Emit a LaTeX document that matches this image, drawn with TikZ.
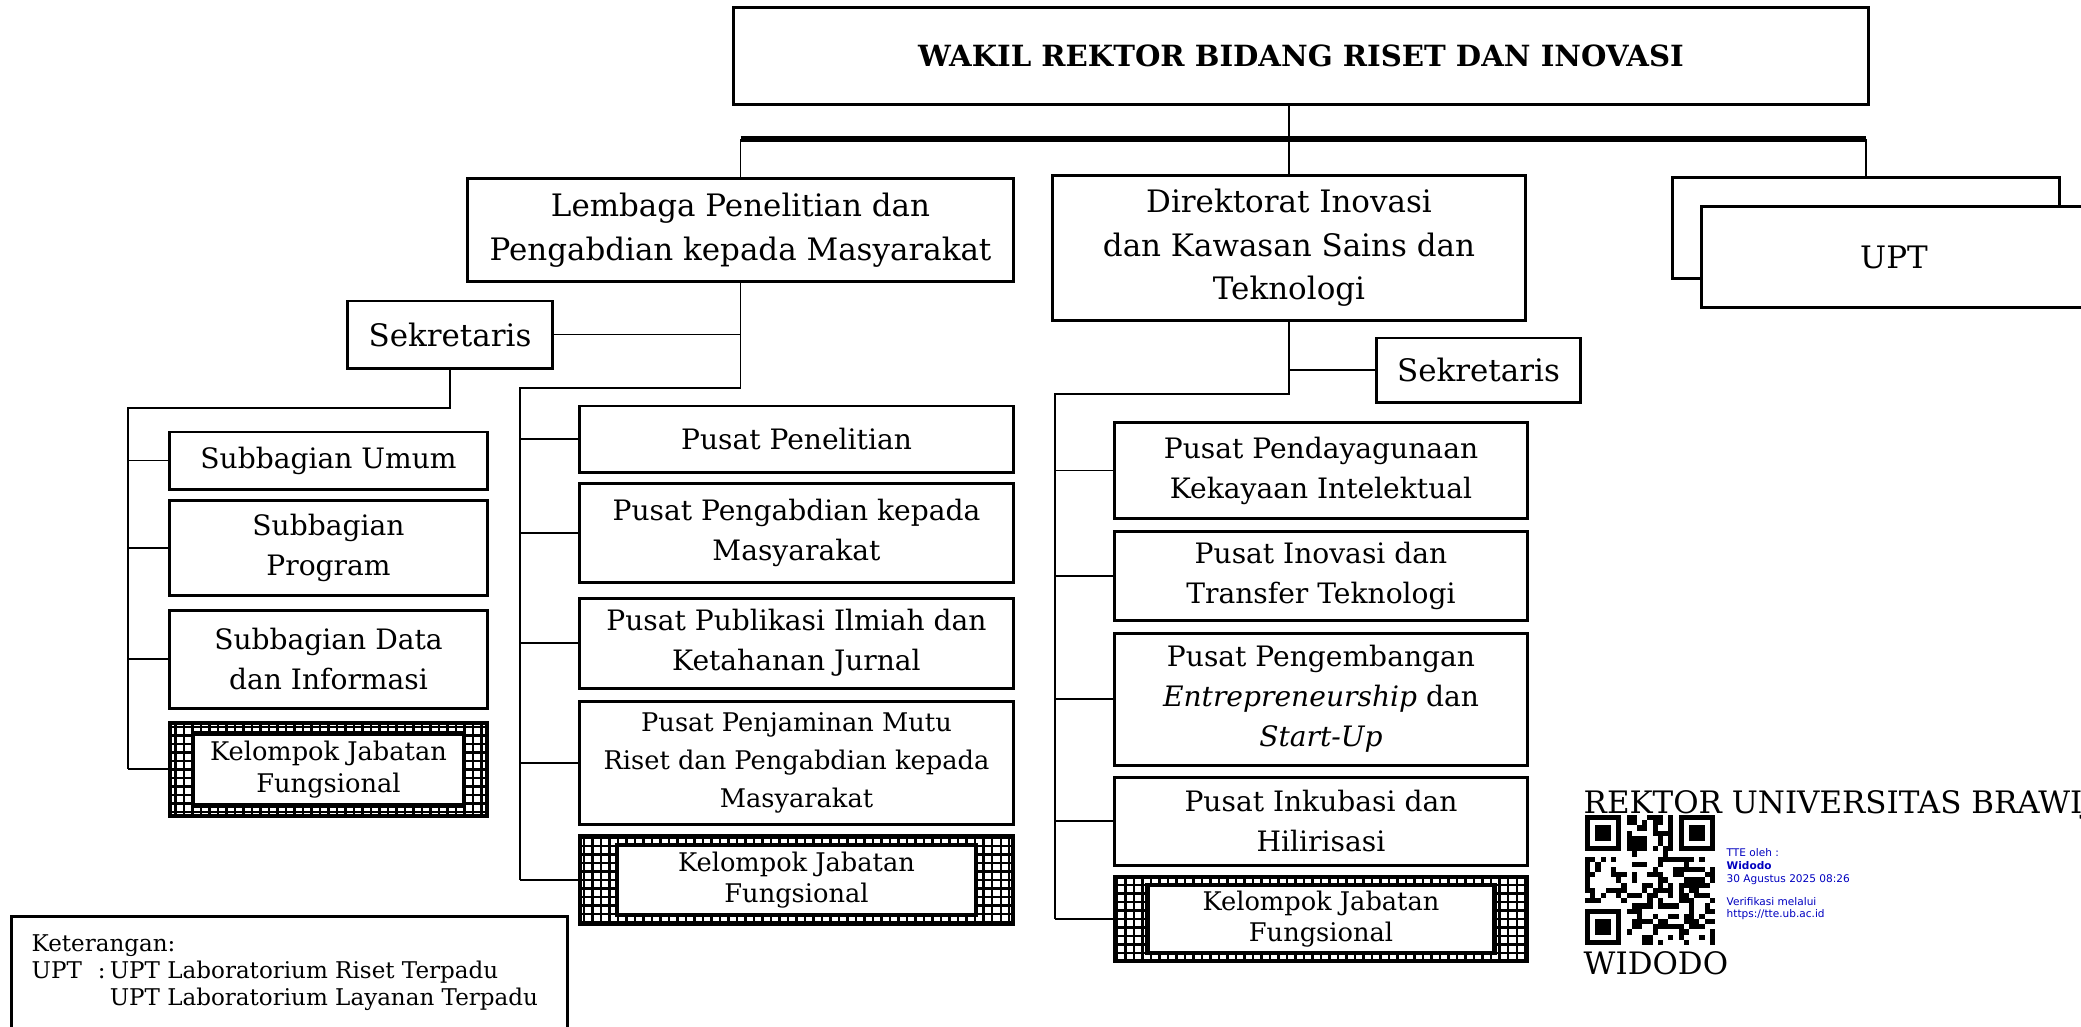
\documentclass[tikz,border=0pt]{standalone}
\usepackage{fontspec}
\setmainfont{DejaVu Serif}
\setsansfont{DejaVu Sans}
\usetikzlibrary{positioning}

\newcommand{\fsT}{\fontsize{8.3}{10}\selectfont\bfseries}
\newcommand{\fsL}{\fontsize{8.8}{12.4}\selectfont}
\newcommand{\fsN}{\fontsize{8}{11.4}\selectfont}
\newcommand{\fsS}{\fontsize{7.3}{10.8}\selectfont}
\newcommand{\fsK}{\fontsize{7.3}{9}\selectfont}
\newcommand{\fsLeg}{\fontsize{6.55}{7.7}\selectfont}
\newcommand{\fsSig}{\fontsize{8.8}{10}\selectfont}

\begin{document}
\begin{tikzpicture}[x=0.01cm, y=-0.01cm, node distance=0.1cm,
    box/.style={draw, line width=0.85pt, align=center, inner sep=1pt, font=\fsN},
    bigbox/.style={box, font=\fsL},
    smallbox/.style={box, font=\fsS},
    kjfout/.style={draw, line width=1.3pt, path picture={
        \draw[line width=0.65pt, step=0.085cm] (path picture bounding box.south west) grid (path picture bounding box.north east);}},
    kjfin/.style={draw, fill=white, line width=1.3pt, align=center, inner sep=0pt, font=\fsK},
    link/.style={line width=0.55pt},
    bar/.style={line width=1.5pt}]
    \useasboundingbox (0,0) rectangle (2081,1026);

    % pimpinan
    \node[box, font=\fsT, minimum width=11.35cm, minimum height=0.96cm] (wr) at (1301,56) {WAKIL REKTOR BIDANG RISET DAN INOVASI};
    \node[bigbox, minimum width=5.45cm, minimum height=1.02cm] (lppm) at (740.5,230) {Lembaga Penelitian dan\\Pengabdian kepada Masyarakat};
    \node[bigbox, minimum width=4.72cm, minimum height=1.44cm] (dir) at (1289,248) {Direktorat Inovasi\\dan Kawasan Sains dan\\Teknologi};
    \node[box, minimum width=3.86cm, minimum height=1.0cm] (uptback) at (1866,228) {};
    \node[bigbox, fill=white, minimum width=3.84cm, minimum height=1.0cm] (upt) at (1894,257) {UPT};

    % sekretaris
    \node[bigbox, minimum width=2.04cm, minimum height=0.67cm] (sekL) at (450,334.5) {Sekretaris};
    \node[bigbox, minimum width=2.03cm, minimum height=0.64cm] (sekR) at (1478.5,370) {Sekretaris};

    % subbagian (LPPM)
    \node[box, minimum width=3.17cm, minimum height=0.57cm] (umum) at (328.5,460.5) {Subbagian Umum};
    \node[box, minimum width=3.17cm, minimum height=0.95cm, below=0.08cm of umum] (prog) {Subbagian\\Program};
    \node[box, minimum width=3.17cm, minimum height=0.98cm, below=0.12cm of prog] (data) {Subbagian Data\\dan Informasi};
    \node[kjfout, minimum width=3.17cm, minimum height=0.93cm, below=0.11cm of data] (kjfA) {};
    \node[kjfin, minimum width=2.71cm, minimum height=0.72cm] (kjfAi) at (kjfA) {Kelompok Jabatan\\Fungsional};

    % pusat (LPPM)
    \node[box, minimum width=4.33cm, minimum height=0.66cm] (pp) at (796.5,439) {Pusat Penelitian};
    \node[box, minimum width=4.33cm, minimum height=0.99cm, below=0.085cm of pp] (pa) {Pusat Pengabdian kepada\\Masyarakat};
    \node[box, minimum width=4.33cm, minimum height=0.9cm, below=0.125cm of pa] (pub) {Pusat Publikasi Ilmiah dan\\Ketahanan Jurnal};
    \node[smallbox, minimum width=4.33cm, minimum height=1.23cm, below=of pub] (pm) {Pusat Penjaminan Mutu\\Riset dan Pengabdian kepada\\Masyarakat};
    \node[kjfout, minimum width=4.33cm, minimum height=0.88cm, below=0.08cm of pm] (kjfB) {};
    \node[kjfin, minimum width=3.59cm, minimum height=0.7cm] (kjfBi) at (kjfB) {Kelompok Jabatan\\Fungsional};

    % pusat (Direktorat)
    \node[box, minimum width=4.12cm, minimum height=0.95cm] (pd) at (1321,470.5) {Pusat Pendayagunaan\\Kekayaan Intelektual};
    \node[box, minimum width=4.12cm, minimum height=0.89cm, below=of pd] (pi) {Pusat Inovasi dan\\Transfer Teknologi};
    \node[box, minimum width=4.12cm, minimum height=1.32cm, below=of pi] (pe) {Pusat Pengembangan\\\textit{Entrepreneurship} dan\\\textit{Start-Up}};
    \node[box, minimum width=4.12cm, minimum height=0.88cm, below=0.09cm of pe] (pk) {Pusat Inkubasi dan\\Hilirisasi};
    \node[kjfout, minimum width=4.12cm, minimum height=0.84cm, below=0.08cm of pk] (kjfC) {};
    \node[kjfin, minimum width=3.47cm, minimum height=0.68cm] (kjfCi) at (kjfC) {Kelompok Jabatan\\Fungsional};

    % garis komando
    \coordinate (bus) at (0,139);
    \draw[line width=0.8pt] (wr.south -| dir.north) -- (bus -| dir.north);
    \draw[bar] (bus -| lppm.north) -- (bus -| uptback.north);
    \foreach \n in {lppm,dir,uptback}
        \draw[link] (bus -| \n.north) -- (\n.north);

    % LPPM
    \coordinate (lpj) at (520,388);
    \draw[link] (lppm.south) |- (lpj) -- (lpj |- kjfB.west);
    \draw[link] (sekL.east) -- (sekL.east -| lppm.south);
    \coordinate (sbj) at (128,408);
    \draw[link] (sekL.south) |- (sbj) -- (sbj |- kjfA.west);
    \foreach \n in {umum,prog,data,kjfA}
        \draw[link] (sbj |- \n.west) -- (\n.west);
    \foreach \n in {pp,pa,pub,pm,kjfB}
        \draw[link] (lpj |- \n.west) -- (\n.west);

    % Direktorat
    \coordinate (drj) at (1055,394);
    \draw[link] (dir.south) |- (drj) -- (drj |- kjfC.west);
    \draw[link] (sekR.west) -- (sekR.west -| dir.south);
    \foreach \n in {pd,pi,pe,pk,kjfC}
        \draw[link] (drj |- \n.west) -- (\n.west);

    % keterangan
    \node[draw, line width=0.85pt, anchor=north west, minimum width=5.56cm, minimum height=1.3cm] (ket) at (10,915) {};
    \node[anchor=north west, font=\fsLeg, align=left, inner sep=0pt] (kettxt) at (31,934) {Keterangan:\\
        \makebox[18.8pt][l]{UPT}\makebox[3.4pt][l]{:}UPT Laboratorium Riset Terpadu\\
        \hspace*{22.2pt}UPT Laboratorium Layanan Terpadu};

    % tanda tangan
    \node[anchor=north west, font=\fsSig, inner sep=0pt] (rektor) at (1583,790) {REKTOR UNIVERSITAS BRAWIJAYA};
    \begin{scope}[shift={(1585,815)}, x=0.052cm, y=-0.052cm]
        \pgfmathsetseed{4242}
        \foreach \i in {0,...,24}{
            \foreach \j in {0,...,24}{
                \pgfmathtruncatemacro\qrbit{rnd<0.48}
                \ifnum\qrbit=1 \fill (\i,\j) rectangle +(1,1);\fi
            }
        }
        \foreach \a/\b/\sa/\sb in {0/0/0/0, 18/0/17/0, 0/18/0/17}{
            \fill[white] (\sa,\sb) rectangle +(8,8);
            \fill (\a,\b) rectangle +(7,7);
            \fill[white] (\a+1,\b+1) rectangle +(5,5);
            \fill (\a+2,\b+2) rectangle +(3,3);
        }
    \end{scope}
    \node[anchor=north west, font=\sffamily\fontsize{3}{3.6}\selectfont, text=blue!75!black, align=left, inner sep=0pt] (tte) at (1726,848) {TTE oleh :\\\textbf{Widodo}\\30 Agustus 2025 08:26\\[3pt]Verifikasi melalui\\https://tte.ub.ac.id};
    \node[anchor=north west, font=\fsSig, inner sep=0pt] (nama) at (1583,951) {WIDODO};
\end{tikzpicture}
\end{document}
